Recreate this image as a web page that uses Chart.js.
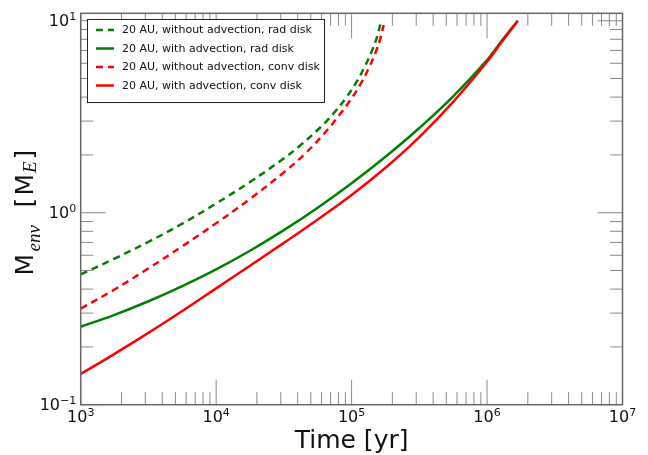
<!DOCTYPE html>
<html>
<head>
<meta charset="utf-8">
<script src="https://cdn.jsdelivr.net/npm/chart.js@4.4.1/dist/chart.umd.min.js"></script>
<style>
  html, body { margin: 0; padding: 0; background: #fff; }
</style>
</head>
<body>
<canvas id="myChart" width="648" height="455"></canvas>
<script>
// series labels (legend order)
const labels = [
  '20 AU, without advection, rad disk',
  '20 AU, with advection, rad disk',
  '20 AU, without advection, conv disk',
  '20 AU, with advection, conv disk'
];

// time [yr] and envelope mass [M_E]
const timeSolid = [1000, 1778, 3162, 5623, 10000, 17783, 31623, 56234, 100000, 177828, 316228, 562341, 1000000, 1258925, 1686553];
const radSolid = [0.2547, 0.2938, 0.3459, 0.4150, 0.5070, 0.6339, 0.8110, 1.0617, 1.4223, 1.9543, 2.7606, 4.0365, 6.2373, 7.7268, 10.0];
const convSolid = [0.1445, 0.1841, 0.2366, 0.3076, 0.4036, 0.5297, 0.6966, 0.9226, 1.2359, 1.7140, 2.4774, 3.7757, 6.1094, 7.6033, 10.0];

const timeRadDash = [1000, 1778, 3162, 5623, 10000, 17783, 31623, 41687, 58884, 74131, 91201, 109648, 125893, 141254, 154882, 162930];
const radDash = [0.4775, 0.5768, 0.7047, 0.8770, 1.1169, 1.4454, 1.9187, 2.2387, 2.7861, 3.3113, 3.9811, 4.8417, 5.8210, 6.9663, 8.3176, 9.594];

const timeConvDash = [1000, 1778, 3162, 5623, 10000, 17783, 31623, 44668, 63096, 79433, 97724, 117490, 134896, 151356, 164059, 172584];
const convDash = [0.3162, 0.3981, 0.5129, 0.6683, 0.8810, 1.1803, 1.6218, 2.0091, 2.5942, 3.1623, 3.8459, 4.7315, 5.7148, 6.9183, 8.2224, 9.506];

// tick decades (exponents) and minor multipliers
const xTickExps = [3, 4, 5, 6, 7];
const yTickExps = [-1, 0, 1];
const minorSteps = [2, 3, 4, 5, 6, 7, 8, 9];

const xMin = 1e3, xMax = 1e7;
const yMin = 0.1, yMax = 10.93;

function toPoints(xs, ys) {
  return ys.map((v, i) => ({x: xs[i], y: v}));
}

const green = '#008000';
const red = '#ff0000';

const myData = {
  datasets: [
    {label: labels[0], data: toPoints(timeRadDash, radDash), borderColor: green, borderDash: [7, 5], order: 4},
    {label: labels[1], data: toPoints(timeSolid, radSolid), borderColor: green, borderDash: [], order: 3},
    {label: labels[2], data: toPoints(timeConvDash, convDash), borderColor: red, borderDash: [7, 5], order: 2},
    {label: labels[3], data: toPoints(timeSolid, convSolid), borderColor: red, borderDash: [], order: 1}
  ]
};

const supDigits = {'-1': '\u22121', '0': '0', '1': '1', '3': '3', '4': '4', '5': '5', '6': '6', '7': '7'};

// frame, inward ticks, labels and legend, matplotlib style
const decorations = {
  id: 'decorations',
  afterDraw(chart) {
    const {ctx, chartArea: a, scales: {x, y}} = chart;
    ctx.save();

    // ticks
    ctx.strokeStyle = '#8a8a8a';
    ctx.lineWidth = 1;
    ctx.beginPath();
    xTickExps.forEach(e => {
      const steps = [1].concat(e < 7 ? minorSteps : []);
      steps.forEach(k => {
        const v = k * Math.pow(10, e);
        if (v > xMax) return;
        const px = x.getPixelForValue(v);
        const len = k === 1 ? 25 : 12.5;
        ctx.moveTo(px, a.bottom); ctx.lineTo(px, a.bottom - len);
        ctx.moveTo(px, a.top); ctx.lineTo(px, a.top + len);
      });
    });
    yTickExps.forEach(e => {
      const steps = [1].concat(minorSteps);
      steps.forEach(k => {
        const v = k * Math.pow(10, e);
        if (v > yMax) return;
        const py = y.getPixelForValue(v);
        const len = k === 1 ? 25 : 12.5;
        ctx.moveTo(a.left, py); ctx.lineTo(a.left + len, py);
        ctx.moveTo(a.right, py); ctx.lineTo(a.right - len, py);
      });
    });
    ctx.stroke();

    // frame
    ctx.strokeStyle = '#666';
    ctx.lineWidth = 1.5;
    ctx.strokeRect(a.left, a.top, a.right - a.left, a.bottom - a.top);

    // tick labels
    ctx.fillStyle = '#111';
    ctx.textAlign = 'left';
    ctx.textBaseline = 'alphabetic';
    const bigFont = '16px "DejaVu Sans"';
    const supFont = '11px "DejaVu Sans"';
    xTickExps.forEach(e => {
      const px = x.getPixelForValue(Math.pow(10, e));
      ctx.font = bigFont;
      const w1 = ctx.measureText('10').width;
      ctx.font = supFont;
      const w2 = ctx.measureText(supDigits[e]).width;
      const x0 = px - (w1 + w2) / 2;
      const base = a.bottom + 17.5;
      ctx.font = bigFont;
      ctx.fillText('10', x0, base);
      ctx.font = supFont;
      ctx.fillText(supDigits[e], x0 + w1, base - 6.5);
    });
    yTickExps.forEach(e => {
      const py = y.getPixelForValue(Math.pow(10, e));
      ctx.font = bigFont;
      const w1 = ctx.measureText('10').width;
      ctx.font = supFont;
      const w2 = ctx.measureText(supDigits[e]).width;
      const x0 = a.left - 4.5 - (w1 + w2);
      const base = py + 5.5;
      ctx.font = bigFont;
      ctx.fillText('10', x0, base);
      ctx.font = supFont;
      ctx.fillText(supDigits[e], x0 + w1, base - 6.5);
    });

    // x axis title
    ctx.font = '25px "DejaVu Sans"';
    ctx.textAlign = 'center';
    ctx.fillText('Time [yr]', (a.left + a.right) / 2, 448);

    // y axis title: M_env [M_E]
    ctx.save();
    ctx.translate(33, (a.top + a.bottom) / 2 + 4);
    ctx.rotate(-Math.PI / 2);
    ctx.textAlign = 'left';
    const pieces = [
      {t: 'M', font: '25px "DejaVu Sans"', at: -62.5, dy: 0},
      {t: 'env', font: 'italic 19px "Liberation Serif"', at: -38.5, dy: 7},
      {t: '[', font: '25px "DejaVu Sans"', at: 5.5, dy: 0},
      {t: 'M', font: '25px "DejaVu Sans"', at: 17.5, dy: 0},
      {t: 'E', font: 'italic 19px "Liberation Serif"', at: 40, dy: 3},
      {t: ']', font: '25px "DejaVu Sans"', at: 53.5, dy: 0}
    ];
    pieces.forEach(p => {
      ctx.font = p.font;
      ctx.fillText(p.t, p.at, p.dy);
    });
    ctx.restore();

    // legend
    const lx = 87.5, ly = 19.5, lw = 237, lh = 83;
    ctx.fillStyle = '#fff';
    ctx.fillRect(lx, ly, lw, lh);
    ctx.strokeStyle = '#222';
    ctx.lineWidth = 1;
    ctx.strokeRect(lx, ly, lw, lh);
    ctx.font = '11px "DejaVu Sans"';
    ctx.textAlign = 'left';
    ctx.textBaseline = 'middle';
    chart.data.datasets.forEach((ds, i) => {
      const yy = 30 + i * 18.5;
      ctx.strokeStyle = ds.borderColor;
      ctx.lineWidth = 2.5;
      ctx.setLineDash(ds.borderDash);
      ctx.beginPath();
      ctx.moveTo(96, yy);
      ctx.lineTo(114, yy);
      ctx.stroke();
      ctx.setLineDash([]);
      ctx.fillStyle = '#111';
      ctx.fillText(ds.label, 122, yy + 0.5);
    });

    ctx.restore();
  }
};

const ctx = document.getElementById('myChart').getContext('2d');
const myChart = new Chart(ctx, {
  type: 'line',
  data: myData,
  options: {
    responsive: false,
    animation: false,
    devicePixelRatio: 1,
    layout: {
      padding: {left: 80.7, right: 25.5, top: 13.3, bottom: 50.3}
    },
    elements: {
      point: {radius: 0},
      line: {borderWidth: 2.5, tension: 0.4, fill: false, borderCapStyle: 'butt'}
    },
    scales: {
      x: {type: 'logarithmic', min: xMin, max: xMax, display: false},
      y: {type: 'logarithmic', min: yMin, max: yMax, display: false}
    },
    plugins: {
      legend: {display: false},
      tooltip: {enabled: false}
    }
  },
  plugins: [decorations]
});
</script>
</body>
</html>
